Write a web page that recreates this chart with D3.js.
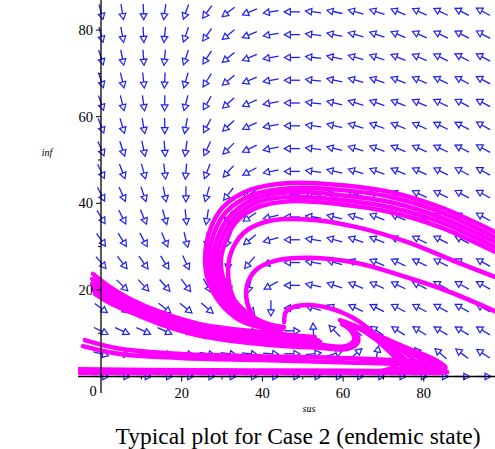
<!DOCTYPE html>
<html>
<head>
<meta charset="utf-8">
<script src="https://cdn.jsdelivr.net/npm/d3@7"></script>
<style>
  body { margin: 0; background: #fff; }
  svg { display: block; }
</style>
</head>
<body>
<svg id="grafiek" width="495" height="449"></svg>
<script>
// roosterpunten van het richtingsveld (sus, inf)
const gridS = [0, 5.26, 10.53, 15.79, 21.05, 26.32, 31.58, 36.84, 42.11, 47.37, 52.63, 57.89, 63.16, 68.42, 73.68, 78.95, 84.21, 89.47, 94.74];
const gridI = [0, 5.26, 10.53, 15.79, 21.05, 26.32, 31.58, 36.84, 42.11, 47.37, 52.63, 57.89, 63.16, 68.42, 73.68, 78.95, 84.21];

// richting van elke pijl in graden (per rij van inf, van onder naar boven)
const arrowAngles = [
  [0, 0, 0, 0, 0, 0, 0, 0, 0, 0, 0, 0, 0, 0, 0, 0, 0, 0, 0],
  [-14, -13, -12, -12, -11, -10, -8, -7, -4, 0, 6, 17, 40, 80, 114, 130, 138, 143, 147],
  [-26, -25, -25, -25, -24, -23, -22, -20, -15, -1, 93, 135, 142, 145, 147, 148, 149, 149, 149],
  [-36, -36, -37, -38, -39, -41, -44, -52, -90, -179, 163, 157, 155, 153, 152, 152, 151, 151, 150],
  [-44, -45, -47, -49, -53, -60, -73, -103, -151, -180, 168, 162, 158, 156, 154, 153, 152, 151, 151],
  [-50, -52, -55, -59, -66, -77, -97, -130, -161, -180, 170, 164, 160, 157, 155, 154, 153, 152, 151],
  [-55, -58, -62, -67, -76, -90, -112, -141, -165, -180, 171, 165, 161, 158, 156, 154, 153, 152, 151],
  [-59, -63, -67, -74, -84, -99, -122, -147, -167, -180, 172, 166, 162, 159, 157, 155, 153, 152, 151],
  [-63, -66, -71, -79, -90, -106, -128, -150, -168, -180, 172, 166, 162, 159, 157, 155, 154, 152, 151],
  [-65, -69, -75, -83, -95, -111, -132, -152, -168, -180, 172, 167, 163, 160, 157, 155, 154, 152, 151],
  [-67, -72, -78, -86, -98, -115, -135, -154, -169, -180, 173, 167, 163, 160, 157, 156, 154, 153, 151],
  [-69, -74, -80, -89, -101, -118, -137, -155, -169, -180, 173, 167, 163, 160, 158, 156, 154, 153, 151],
  [-71, -76, -82, -91, -104, -120, -138, -156, -170, -180, 173, 167, 163, 160, 158, 156, 154, 153, 152],
  [-72, -77, -84, -93, -106, -122, -140, -157, -170, -180, 173, 168, 164, 160, 158, 156, 154, 153, 152],
  [-73, -79, -86, -95, -108, -123, -141, -157, -170, -180, 173, 168, 164, 161, 158, 156, 154, 153, 152],
  [-75, -80, -87, -96, -109, -125, -142, -158, -170, -180, 173, 168, 164, 161, 158, 156, 154, 153, 152],
  [-75, -81, -88, -98, -110, -126, -143, -158, -170, -180, 173, 168, 164, 161, 158, 156, 154, 153, 152]
];

// banen (sus, inf)
const outerCurves = [
  [[97.6, 33.4], [84.0, 39.1], [71.6, 42.6], [59.2, 44.2], [46.8, 44.7], [36.9, 43.1], [30.2, 39.1], [27.0, 33.8], [25.8, 27.6], [26.5, 22.3], [29.5, 17.0], [34.4, 13.0], [40.1, 11.2], [44.4, 10.5]],
  [[97.6, 32.2], [84.0, 38.0], [71.6, 41.5], [59.2, 43.1], [46.8, 43.5], [37.4, 41.9], [31.2, 38.2], [28.0, 33.1], [26.8, 27.4], [27.5, 22.1], [30.5, 17.0], [35.2, 13.3], [40.6, 11.4], [44.6, 10.7]],
  [[97.6, 31.1], [84.0, 36.8], [71.6, 40.3], [59.2, 41.9], [46.8, 42.6], [37.9, 41.0], [32.2, 37.3], [29.0, 32.4], [27.8, 27.1], [28.5, 22.1], [31.5, 17.2], [35.9, 13.5], [41.1, 11.7], [44.9, 11.0]],
  [[97.6, 29.9], [84.0, 35.7], [71.6, 39.1], [59.2, 40.8], [46.8, 41.5], [38.4, 40.1], [33.0, 36.6], [30.0, 32.0], [28.7, 26.9], [29.5, 22.1], [32.2, 17.4], [36.7, 13.7], [41.4, 11.9], [45.1, 11.2]],
  [[97.6, 28.8], [84.0, 34.5], [71.6, 38.0], [59.2, 39.8], [46.8, 40.5], [38.9, 39.1], [33.7, 35.9], [31.0, 31.5], [29.7, 26.7], [30.5, 22.1], [33.0, 17.7], [37.2, 14.0], [41.6, 12.1], [45.4, 11.4]]
];
const secondCurve = [[97.6, 23.0], [88.2, 26.4], [75.8, 31.1], [63.4, 34.5], [53.5, 36.1], [42.6, 36.1], [36.2, 33.8], [32.7, 29.7], [31.5, 24.6], [32.5, 18.8], [35.2, 14.7], [40.1, 11.9], [43.9, 11.0]];
const middleCurve = [[97.6, 15.1], [86.5, 19.5], [74.1, 23.4], [63.4, 26.2], [51.8, 27.4], [43.1, 26.7], [38.4, 24.6], [36.2, 21.1], [36.2, 17.2], [37.7, 14.0], [40.6, 11.7], [44.4, 10.5]];
const hookCurve = [[45.4, 12.6], [45.8, 14.9], [47.8, 16.1], [51.8, 16.5], [57.2, 15.6], [62.2, 13.7], [66.4, 11.0], [69.9, 8.0], [73.4, 5.0], [77.3, 2.4], [81.5, 1.3]];
const fanCurves = [
  [[59.2, 13.0], [65.4, 10.3], [71.1, 6.1], [73.6, 3.1], [70.6, 1.5], [61.2, 1.0]],
  [[60.5, 12.6], [67.4, 9.6], [73.5, 5.6], [76.0, 2.9], [73.0, 1.5], [63.6, 1.0]],
  [[61.7, 12.1], [69.4, 8.9], [75.8, 5.2], [78.3, 2.6], [75.3, 1.5], [65.9, 1.0]],
  [[62.9, 11.7], [71.4, 8.2], [78.2, 4.7], [80.7, 2.4], [77.7, 1.5], [68.3, 1.0]],
  [[64.2, 11.2], [73.4, 7.5], [80.5, 4.3], [83.0, 2.2], [80.0, 1.5], [70.6, 1.0]],
  [[65.4, 10.7], [75.3, 6.8], [82.9, 3.8], [85.4, 2.0], [82.4, 1.3], [73.0, 1.0]]
];
const leftCurves = [
  [[-2.0, 23.7], [2.2, 20.7], [7.2, 17.9], [14.6, 14.9], [24.5, 12.1], [39.4, 10.3], [53.0, 9.1]],
  [[-2.2, 22.5], [2.2, 19.7], [7.2, 17.2], [14.6, 14.2], [24.5, 11.4], [39.4, 9.6], [53.8, 8.4]],
  [[-2.2, 21.4], [2.2, 18.8], [7.2, 16.5], [14.6, 13.5], [24.5, 10.7], [39.4, 8.9], [54.3, 8.0]],
  [[-2.0, 20.2], [2.2, 17.9], [7.2, 15.6], [14.6, 12.8], [24.5, 10.0], [39.4, 8.2], [54.3, 7.3], [60.5, 7.0], [62.7, 8.4], [62.0, 10.5], [59.7, 12.1]],
  [[-1.5, 19.1], [2.2, 17.0], [7.2, 14.9], [14.6, 12.1], [24.5, 9.4], [39.4, 7.5], [54.3, 6.6], [61.2, 6.4], [63.7, 8.0], [63.0, 10.5], [60.5, 12.4]]
];
const bandCurves = [
  [[-4.0, 8.4], [4.7, 6.4], [19.6, 5.2], [39.4, 4.7], [59.2, 4.3], [79.1, 3.3], [84.0, 2.4]],
  [[-4.5, 7.0], [4.7, 5.2], [19.6, 4.3], [39.4, 3.8], [59.2, 3.3], [76.6, 2.7], [81.5, 2.0]]
];
const bottomCurves = [
  [[-5.7, 1.7], [12.1, 1.5], [36.9, 1.4], [61.7, 1.3], [85.8, 1.0]],
  [[-5.2, 0.8], [24.5, 0.8], [69.1, 0.8], [84.0, 0.8]]
];

// astikken
const majorTicks = [20, 40, 60, 80];
const minorTicks = [10, 30, 50, 70, 90];

const svg = d3.select('#grafiek');

// schalen
const x = d3.scaleLinear().domain([0, 100]).range([101, 504.5]);
const y = d3.scaleLinear().domain([0, 100]).range([376.5, -56.5]);

svg.append('defs').append('clipPath').attr('id', 'vak')
  .append('rect').attr('x', 78).attr('y', 0).attr('width', 417).attr('height', 394);

const plot = svg.append('g').attr('clip-path', 'url(#vak)');

// pijlen
const arrows = [];
gridI.forEach(function (inf, j) {
  gridS.forEach(function (sus, k) {
    arrows.push({ sus: sus, inf: inf, angle: arrowAngles[j][k] });
  });
});

const half = 7.8, headLen = 6, headW = 3.3;
const blue = '#1f1ff5';
plot.append('g')
  .selectAll('g')
  .data(arrows)
  .join('g')
  .attr('transform', function (d) {
    return 'translate(' + x(d.sus) + ',' + y(d.inf) + ') rotate(' + (-d.angle) + ')';
  })
  .each(function () {
    const g = d3.select(this);
    g.append('line')
      .attr('x1', -half).attr('y1', 0)
      .attr('x2', half - headLen).attr('y2', 0)
      .attr('stroke', blue).attr('stroke-width', 1.3);
    g.append('path')
      .attr('d', 'M' + half + ',0 L' + (half - headLen) + ',' + (-headW) + ' L' + (half - headLen) + ',' + headW + ' Z')
      .attr('fill', '#fff').attr('stroke', blue).attr('stroke-width', 1.2);
  });

// banen
const line = d3.line()
  .x(function (d) { return x(d[0]); })
  .y(function (d) { return y(d[1]); })
  .curve(d3.curveCatmullRom.alpha(0.5));

const allCurves = [].concat(outerCurves, [secondCurve, middleCurve, hookCurve], fanCurves, leftCurves, bandCurves, bottomCurves);

plot.append('g')
  .selectAll('path')
  .data(allCurves)
  .join('path')
  .attr('d', line)
  .attr('fill', 'none')
  .attr('stroke', '#ff00ff')
  .attr('stroke-width', 4.5)
  .attr('stroke-linecap', 'round')
  .attr('stroke-linejoin', 'round');

// assen
const axes = svg.append('g').attr('stroke', '#000');
axes.append('line').attr('x1', 78).attr('x2', 495).attr('y1', y(0)).attr('y2', y(0)).attr('stroke-width', 1.3);
axes.append('line').attr('x1', x(0)).attr('x2', x(0)).attr('y1', 0).attr('y2', 393).attr('stroke-width', 1.3);

axes.selectAll('.xt').data(majorTicks).join('line')
  .attr('x1', function (d) { return x(d); }).attr('x2', function (d) { return x(d); })
  .attr('y1', y(0)).attr('y2', y(0) + 5);
axes.selectAll('.xm').data(minorTicks).join('line')
  .attr('x1', function (d) { return x(d); }).attr('x2', function (d) { return x(d); })
  .attr('y1', y(0)).attr('y2', y(0) + 3);
axes.selectAll('.yt').data(majorTicks).join('line')
  .attr('x1', x(0) - 5).attr('x2', x(0))
  .attr('y1', function (d) { return y(d); }).attr('y2', function (d) { return y(d); });
axes.selectAll('.ym').data(minorTicks.slice(0, 4)).join('line')
  .attr('x1', x(0) - 3).attr('x2', x(0))
  .attr('y1', function (d) { return y(d); }).attr('y2', function (d) { return y(d); });

// teksten
const serif = '"Liberation Serif", "Times New Roman", serif';
svg.selectAll('.xl').data(majorTicks).join('text')
  .attr('x', function (d) { return x(d); }).attr('y', 398)
  .attr('text-anchor', 'middle').attr('font-family', serif).attr('font-size', 14.5)
  .text(function (d) { return d; });
svg.selectAll('.yl').data(majorTicks).join('text')
  .attr('x', 93).attr('y', function (d) { return y(d) + 5; })
  .attr('text-anchor', 'end').attr('font-family', serif).attr('font-size', 14.5)
  .text(function (d) { return d; });
svg.append('text').attr('x', 93).attr('y', 396)
  .attr('text-anchor', 'middle').attr('font-family', serif).attr('font-size', 14.5).text('0');

svg.append('text').attr('x', 309).attr('y', 412)
  .attr('text-anchor', 'middle').attr('font-family', serif).attr('font-size', 10)
  .attr('font-style', 'italic').text('sus');
svg.append('text').attr('x', 47).attr('y', 156)
  .attr('text-anchor', 'middle').attr('font-family', serif).attr('font-size', 10)
  .attr('font-style', 'italic').text('inf');

svg.append('text').attr('x', 298).attr('y', 444)
  .attr('text-anchor', 'middle').attr('font-family', serif).attr('font-size', 23.5)
  .text('Typical plot for Case 2 (endemic state)');
</script>
</body>
</html>
